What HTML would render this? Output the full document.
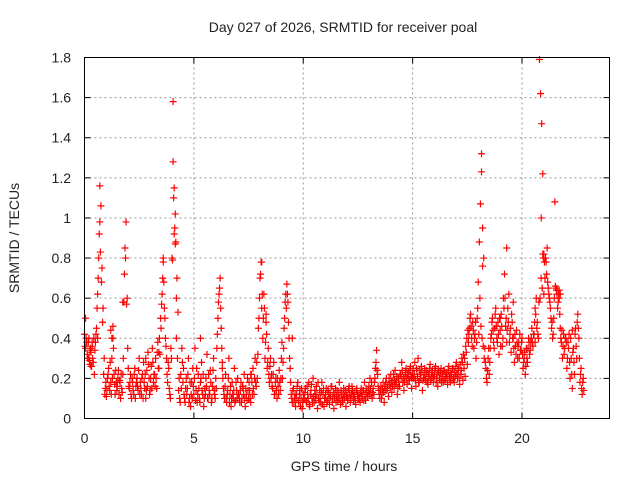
<!DOCTYPE html>
<html><head><meta charset="utf-8"><style>
html,body{margin:0;padding:0;background:#fff;}
svg{display:block;font-family:"Liberation Sans",sans-serif;}
</style></head><body>
<svg id="chart" width="640" height="480" viewBox="0 0 640 480">
<rect x="0" y="0" width="640" height="480" fill="#fff"/>
<text x="343" y="32" text-anchor="middle" font-size="14" fill="#222">Day 027 of 2026, SRMTID for receiver poal</text>
<g id="grid"></g>
<g id="axes"></g>
<g id="points"></g>
<rect x="84.5" y="57.5" width="525" height="361" fill="none" stroke="#000" stroke-width="1"/>
<text x="344" y="471" text-anchor="middle" font-size="14" fill="#222">GPS time / hours</text>
<text x="19" y="238" text-anchor="middle" font-size="14" fill="#222" transform="rotate(-90 19 238)">SRMTID / TECUs</text>
</svg>
<script>
const xTicks=[0,5,10,15,20];
const yTicks=[0,0.2,0.4,0.6,0.8,1,1.2,1.4,1.6,1.8];
const yTickLabels=["0","0.2","0.4","0.6","0.8","1","1.2","1.4","1.6","1.8"];
// sampled segments: start hour, 0.05 h cadence
const segStart=[0.0,2.05,3.55,4.55,6.05,7.05,8.05,9.05,10.05,12.55,15.05,17.55,18.55,20.05,21.05,22.05];
const seg0=[0.42,0.35,0.38,0.30,0.40,0.27,0.33,0.36,0.28,0.22,0.38,0.45,0.62,0.80,1.16,1.06,0.75,0.55,0.30,0.15,0.11,0.20,0.25,0.14,0.18,0.30,0.40,0.22,0.12,0.18,0.16,0.24,0.19,0.10,0.15,0.22,0.58,0.85,0.98,0.60,0.25];
const seg1=[0.15,0.22,0.10,0.18,0.12,0.25,0.16,0.20,0.14,0.30,0.18,0.12,0.22,0.28,0.15,0.10,0.24,0.33,0.20,0.14,0.26,0.35,0.18,0.22,0.30,0.15,0.38,0.25,0.32,0.45];
const seg2=[0.62,0.80,0.55,0.40,0.30,0.18,0.25,0.12,0.35,0.80,1.28,1.15,1.02,0.40,0.30,0.14,0.10,0.22,0.35,0.18];
const seg3=[0.12,0.08,0.20,0.15,0.30,0.10,0.06,0.18,0.25,0.12,0.35,0.14,0.08,0.22,0.10,0.18,0.28,0.12,0.06,0.15,0.20,0.32,0.10,0.14,0.24,0.08,0.16,0.30,0.12,0.20];
const seg4=[0.35,0.50,0.62,0.70,0.45,0.25,0.15,0.10,0.22,0.08,0.14,0.30,0.12,0.06,0.18,0.10,0.25,0.09,0.14,0.20];
const seg5=[0.12,0.08,0.18,0.10,0.15,0.22,0.06,0.12,0.20,0.10,0.14,0.08,0.18,0.25,0.12,0.30,0.16,0.20,0.45,0.60];
const seg6=[0.72,0.55,0.40,0.62,0.30,0.48,0.25,0.35,0.18,0.30,0.22,0.15,0.28,0.12,0.20,0.10,0.16,0.24,0.14,0.30];
const seg7=[0.20,0.35,0.50,0.62,0.67,0.58,0.40,0.25,0.12,0.08,0.15,0.10,0.06,0.12,0.18,0.08,0.14,0.10,0.05,0.12];
const seg8=[0.10,0.15,0.08,0.12,0.18,0.06,0.14,0.10,0.20,0.08,0.12,0.16,0.05,0.10,0.14,0.08,0.18,0.12,0.06,0.10,0.15,0.09,0.13,0.07,0.11,0.16,0.10,0.05,0.12,0.08,0.14,0.10,0.18,0.07,0.12,0.09,0.15,0.11,0.06,0.13,0.10,0.16,0.08,0.12,0.14,0.09,0.11,0.07,0.15,0.10];
const seg9=[0.12,0.08,0.15,0.10,0.14,0.18,0.09,0.13,0.11,0.16,0.20,0.12,0.10,0.15,0.18,0.25,0.34,0.22,0.14,0.10,0.16,0.12,0.18,0.08,0.14,0.20,0.15,0.11,0.17,0.22,0.13,0.19,0.15,0.24,0.18,0.12,0.20,0.16,0.22,0.28,0.18,0.14,0.21,0.25,0.17,0.23,0.19,0.26,0.15,0.22];
const seg10=[0.20,0.28,0.16,0.24,0.30,0.18,0.22,0.26,0.14,0.20,0.25,0.19,0.23,0.17,0.21,0.27,0.20,0.24,0.18,0.22,0.26,0.20,0.16,0.23,0.19,0.25,0.21,0.18,0.24,0.20,0.22,0.17,0.26,0.20,0.23,0.19,0.25,0.18,0.21,0.28,0.20,0.24,0.17,0.22,0.30,0.19,0.25,0.21,0.33,0.27];
const seg11=[0.38,0.45,0.52,0.40,0.48,0.35,0.42,0.30,0.50,0.68,0.88,1.07,1.23,0.95,0.80,0.35,0.25,0.18,0.30,0.22];
const seg12=[0.35,0.42,0.50,0.38,0.45,0.55,0.40,0.48,0.32,0.44,0.52,0.36,0.60,0.72,0.46,0.38,0.55,0.62,0.42,0.33,0.48,0.40,0.28,0.36,0.44,0.30,0.38,0.42,0.34,0.40];
const seg13=[0.25,0.30,0.22,0.35,0.28,0.40,0.32,0.38,0.45,0.36,0.42,0.55,0.60,0.48,0.40,1.79,1.62,1.47,1.22,0.82];
const seg14=[0.70,0.78,0.85,0.65,0.60,0.55,0.45,0.40,0.50,1.08,0.65,0.62,0.58,0.64,0.45,0.38,0.30,0.42,0.35,0.40];
const seg15=[0.25,0.38,0.42,0.20,0.30,0.15,0.35,0.22,0.45,0.30,0.52,0.40,0.18,0.25,0.12,0.20];
const segValues=[seg0,seg1,seg2,seg3,seg4,seg5,seg6,seg7,seg8,seg9,seg10,seg11,seg12,seg13,seg14,seg15];
// second receiver pass, offset by 0.025 h
const segB0=[0.36,0.40,0.32,0.38,0.29,0.35,0.26,0.30,0.40,0.34,0.42,0.55,0.70,0.92,0.83,0.68,0.48,0.22,0.12,0.18,0.14,0.22,0.16,0.28,0.12,0.20,0.35,0.17,0.24,0.14,0.20,0.12,0.18,0.22,0.13,0.30,0.72,0.80,0.57,0.35,0.16];
const segB1=[0.18,0.12,0.20,0.14,0.22,0.10,0.18,0.16,0.24,0.12,0.15,0.20,0.10,0.18,0.22,0.14,0.16,0.27,0.12,0.20,0.15,0.28,0.22,0.16,0.20,0.33,0.25,0.40,0.50,0.57];
const segB2=[0.70,0.68,0.50,0.36,0.22,0.28,0.15,0.10,0.30,0.79,1.10,0.95,0.88,0.70,0.53,0.20,0.08,0.15,0.28,0.25];
const segB3=[0.10,0.15,0.12,0.22,0.08,0.18,0.12,0.10,0.16,0.20,0.09,0.25,0.12,0.15,0.08,0.20,0.14,0.22,0.10,0.12,0.16,0.10,0.22,0.12,0.18,0.10,0.24,0.14,0.10,0.15];
const segB4=[0.42,0.58,0.65,0.55,0.35,0.20,0.12,0.16,0.10,0.12,0.20,0.08,0.16,0.10,0.12,0.14,0.08,0.18,0.10,0.12];
const segB5=[0.10,0.14,0.08,0.16,0.12,0.10,0.15,0.09,0.14,0.18,0.10,0.22,0.12,0.15,0.20,0.18,0.28,0.32,0.50,0.70];
const segB6=[0.78,0.62,0.50,0.55,0.38,0.42,0.28,0.22,0.26,0.20,0.16,0.22,0.12,0.18,0.14,0.20,0.12,0.18,0.20,0.38];
const segB7=[0.28,0.45,0.58,0.55,0.62,0.48,0.30,0.18,0.10,0.14,0.08,0.12,0.10,0.16,0.09,0.12,0.06,0.15,0.08,0.10];
const segB8=[0.13,0.09,0.16,0.10,0.07,0.12,0.17,0.08,0.11,0.14,0.09,0.12,0.18,0.08,0.10,0.13,0.07,0.15,0.10,0.12,0.08,0.14,0.10,0.12,0.16,0.08,0.13,0.10,0.15,0.11,0.09,0.13,0.10,0.14,0.08,0.12,0.10,0.14,0.11,0.09,0.15,0.12,0.10,0.16,0.11,0.13,0.09,0.14,0.12,0.10];
const segB9=[0.10,0.13,0.11,0.14,0.09,0.12,0.15,0.11,0.14,0.12,0.15,0.18,0.13,0.12,0.20,0.28,0.24,0.16,0.12,0.14,0.10,0.15,0.13,0.16,0.18,0.14,0.17,0.20,0.15,0.18,0.16,0.22,0.19,0.17,0.21,0.15,0.18,0.22,0.20,0.24,0.20,0.18,0.23,0.20,0.22,0.19,0.24,0.21,0.20,0.25];
const segB10=[0.22,0.19,0.25,0.21,0.18,0.24,0.20,0.23,0.19,0.22,0.20,0.24,0.18,0.22,0.25,0.19,0.23,0.21,0.20,0.25,0.18,0.22,0.24,0.20,0.23,0.18,0.22,0.24,0.19,0.23,0.20,0.24,0.21,0.18,0.22,0.25,0.20,0.23,0.26,0.22,0.25,0.20,0.27,0.24,0.28,0.32,0.30,0.36,0.40,0.44];
const segB11=[0.42,0.50,0.46,0.36,0.44,0.40,0.48,0.38,0.55,0.42,0.60,0.46,0.40,0.36,0.30,0.28,0.20,0.24,0.35,0.28];
const segB12=[0.40,0.48,0.44,0.35,0.52,0.46,0.38,0.42,0.50,0.36,0.46,0.40,0.55,0.60,0.50,0.44,0.48,0.38,0.45,0.52,0.40,0.35,0.42,0.32,0.38,0.36,0.30,0.34,0.38,0.32];
const segB13=[0.28,0.33,0.26,0.30,0.35,0.38,0.34,0.40,0.38,0.42,0.48,0.52,0.45,0.42,0.58,0.60,0.70,0.65,0.80,0.78];
const segB14=[0.80,0.72,0.68,0.62,0.58,0.50,0.48,0.42,0.60,0.66,0.64,0.55,0.62,0.52,0.40,0.44,0.36,0.32,0.40,0.38];
const segB15=[0.30,0.35,0.28,0.40,0.22,0.33,0.28,0.42,0.36,0.48,0.45,0.30,0.22,0.15,0.18,0.14];
const segValuesB=[segB0,segB1,segB2,segB3,segB4,segB5,segB6,segB7,segB8,segB9,segB10,segB11,segB12,segB13,segB14,segB15];
// extra scattered samples
const extraHours=[0.05,0.7,1.75,3.6,4.05,4.1,4.15,4.2,8.1,9.5,18.15,18.2,19.3,20.88,20.95,21.0,6.3,0.3,0.6,1.3,2.8,3.4,5.3,7.6,8.3,1.2,1.25,0.2,0.25,0.35,19.0,19.6,20.6,21.6,21.7,21.75,22.3];
const extraValues=[0.50,0.98,0.58,0.78,1.58,0.92,0.87,0.60,0.78,0.40,1.32,0.76,0.85,1.00,0.82,0.62,0.28,0.26,0.40,0.46,0.30,0.33,0.40,0.22,0.52,0.44,0.40,0.30,0.34,0.38,0.50,0.58,0.38,0.64,0.60,0.62,0.44];

const X0=84.5,X1=609.5,Y0=418.5,Y1=57.5,XMAX=24,YMAX=1.8;
const xs=h=>X0+(h/XMAX)*(X1-X0);
const ys=v=>Y0-(v/YMAX)*(Y0-Y1);
const NS="http://www.w3.org/2000/svg";
const grid=document.getElementById('grid'),axes=document.getElementById('axes'),pts=document.getElementById('points');
function mk(tag,attrs,parent){const e=document.createElementNS(NS,tag);for(const k in attrs)e.setAttribute(k,attrs[k]);parent.appendChild(e);return e;}
xTicks.forEach(t=>{
  const x=xs(t);
  if(t>0){const g=mk('line',{x1:x,x2:x,y1:Y1,y2:Y0,stroke:'#999','stroke-dasharray':'2,3'},grid);
  
  }
  mk('line',{x1:x,x2:x,y1:Y0,y2:Y0-6,stroke:'#000'},axes);
  mk('line',{x1:x,x2:x,y1:Y1,y2:Y1+6,stroke:'#000'},axes);
  const l=mk('text',{x:x,y:443,'text-anchor':'middle','font-size':'14',fill:'#222'},axes);
  l.textContent=String(t);
  
  
});
yTicks.forEach((t,i)=>{
  const y=ys(t);
  if(t>0&&t<YMAX){const g=mk('line',{x1:X0,x2:X1,y1:y,y2:y,stroke:'#999','stroke-dasharray':'2,3'},grid);
  
  }
  mk('line',{x1:X0,x2:X0+6,y1:y,y2:y,stroke:'#000'},axes);
  mk('line',{x1:X1,x2:X1-6,y1:y,y2:y,stroke:'#000'},axes);
  const l=mk('text',{x:71,y:y+5,'text-anchor':'end','font-size':'14',fill:'#222'},axes);
  l.textContent=yTickLabels[i];
  
  
});
function plus(h,v){
  const x=xs(h),y=ys(v);
  const p=mk('path',{d:`M${x-3.5} ${y}H${x+3.5}M${x} ${y-3.5}V${y+3.5}`,stroke:'#ff0000','stroke-width':'1.2',fill:'none'},pts);
  
  
}
segValues.forEach((arr,s)=>arr.forEach((v,i)=>plus(segStart[s]+i*0.05,v)));
segValuesB.forEach((arr,s)=>arr.forEach((v,i)=>plus(segStart[s]+0.025+i*0.05,v)));
extraHours.forEach((h,i)=>plus(h,extraValues[i]));
</script>
</body></html>
